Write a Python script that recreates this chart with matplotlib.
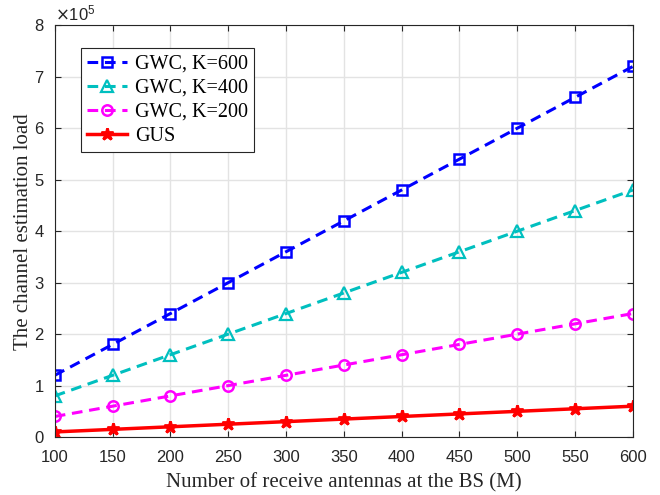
import matplotlib
matplotlib.use("Agg")
import matplotlib.pyplot as plt
import numpy as np

M = [100, 150, 200, 250, 300, 350, 400, 450, 500, 550, 600]
gwc_600 = [1.2e5, 1.8e5, 2.4e5, 3.0e5, 3.6e5, 4.2e5, 4.8e5, 5.4e5, 6.0e5, 6.6e5, 7.2e5]
gwc_400 = [0.8e5, 1.2e5, 1.6e5, 2.0e5, 2.4e5, 2.8e5, 3.2e5, 3.6e5, 4.0e5, 4.4e5, 4.8e5]
gwc_200 = [0.4e5, 0.6e5, 0.8e5, 1.0e5, 1.2e5, 1.4e5, 1.6e5, 1.8e5, 2.0e5, 2.2e5, 2.4e5]
gus = [1.0e4, 1.5e4, 2.0e4, 2.5e4, 3.0e4, 3.5e4, 4.0e4, 4.5e4, 5.0e4, 5.5e4, 6.0e4]
y_ticks = [0, 1, 2, 3, 4, 5, 6, 7, 8]


def main():
    fig = plt.figure(figsize=(6.6, 4.95), dpi=100)
    ax = fig.add_axes([0.083, 0.117, 0.876, 0.832])

    ax.plot(M, gwc_600, '--s', color='blue', lw=2.2, ms=6.5, mfc='none', mew=1.8,
            dashes=(3.5, 2.2), label='GWC, K=600')
    ax.plot(M, gwc_400, '--^', color=(0, 0.75, 0.75), lw=2.2, ms=8, mfc='none', mew=1.6,
            dashes=(3.5, 2.2), label='GWC, K=400')
    ax.plot(M, gwc_200, '--o', color='magenta', lw=2.2, ms=7.5, mfc='none', mew=1.8,
            dashes=(3.5, 2.2), label='GWC, K=200')
    ax.plot(M, gus, '-*', color='red', lw=2.5, ms=9, mew=2.0,
            label='GUS')

    ax.set_xlim(100, 600)
    ax.set_ylim(0, 8e5)
    ax.set_xticks(M)
    ax.set_xticklabels([str(m) for m in M], family='Liberation Sans')
    ax.set_yticks([v * 1e5 for v in y_ticks])
    ax.set_yticklabels([str(v) for v in y_ticks], family='Liberation Sans')
    ax.tick_params(direction='in', labelsize=12, colors='#262626', length=4,
                   top=True, right=True)
    ax.tick_params(axis='x', pad=9)
    ax.tick_params(axis='y', pad=8)
    ax.grid(True, color='#e3e3e3', lw=1.0)
    ax.set_axisbelow(True)
    for s in ax.spines.values():
        s.set_color('#262626')
        s.set_linewidth(0.8)

    ax.text(0.0, 1.004, r'$\times\mathregular{10^5}$', transform=ax.transAxes, fontsize=12,
            family='Liberation Sans', color='#262626', va='bottom', ha='left')

    ax.set_xlabel('Number of receive antennas at the BS (M)', family='Liberation Serif',
                  fontsize=15, color='#262626', labelpad=6)
    ax.set_ylabel('The channel estimation load', family='Liberation Serif',
                  fontsize=15, color='#262626', labelpad=1)

    leg = ax.legend(loc='upper left', bbox_to_anchor=(0.028, 0.968),
                    prop={'family': 'Liberation Serif', 'size': 14.5},
                    fancybox=False, framealpha=1, edgecolor='#262626',
                    handlelength=2.0, handletextpad=0.4, borderpad=0.3,
                    labelspacing=0.25)
    leg.get_frame().set_linewidth(0.8)

    fig.savefig("out.png", dpi=100)


if __name__ == "__main__":
    main()
